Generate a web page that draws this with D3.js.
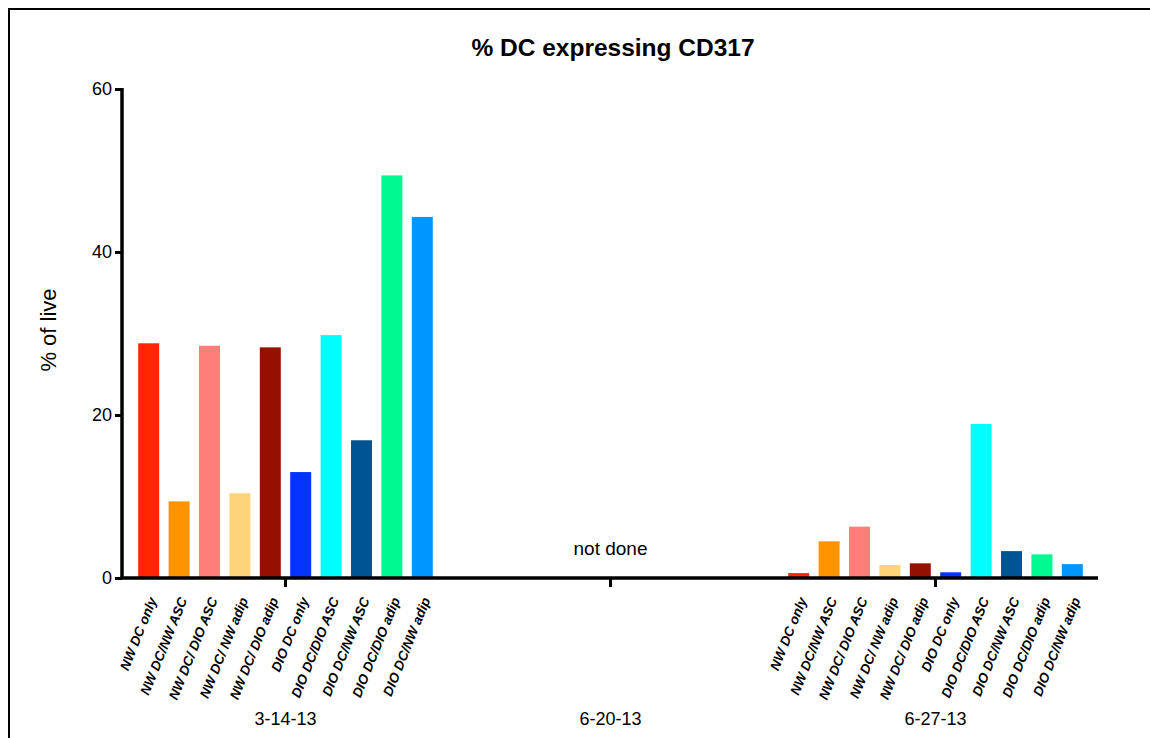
<!DOCTYPE html>
<html>
<head>
<meta charset="utf-8">
<script src="https://cdn.jsdelivr.net/npm/d3@7"></script>
<style>
  html, body { margin: 0; padding: 0; background: #fff; }
  svg { display: block; font-family: "Liberation Sans", Arial, Helvetica, sans-serif; }
</style>
</head>
<body>
<svg id="chart" width="1150" height="738"></svg>
<script>
// ---- data ----
const title = "% DC expressing CD317";
const yLabel = "% of live";
const dates = ["3-14-13", "6-20-13", "6-27-13"];
const conditions = [
  "NW DC only", "NW DC/NW ASC", "NW DC/ DIO ASC", "NW DC/ NW adip", "NW DC/ DIO adip",
  "DIO DC only", "DIO DC/DIO ASC", "DIO DC/NW ASC", "DIO DC/DIO adip", "DIO DC/NW adip"
];
const colors = ["#FF2600", "#FF9300", "#FF7E79", "#FFD479", "#941100",
                "#0433FF", "#00FDFF", "#005493", "#00FA92", "#0096FF"];
const values_3_14_13 = [28.8, 9.4, 28.5, 10.4, 28.3, 13.0, 29.8, 16.9, 49.4, 44.3];
const values_6_20_13 = null; // not done
const values_6_27_13 = [0.6, 4.5, 6.3, 1.6, 1.8, 0.7, 18.9, 3.3, 2.9, 1.7];
const seriesByDate = [values_3_14_13, values_6_20_13, values_6_27_13];
const yTicks = [0, 20, 40, 60];
const missingNote = "not done";

// ---- layout ----
const svg = d3.select("#chart");
const plotLeft = 122, plotRight = 1098, y0 = 578, yTop = 89;

svg.append("rect").attr("x", 9).attr("y", 9).attr("width", 1300).attr("height", 900)
  .attr("fill", "none").attr("stroke", "#000").attr("stroke-width", 2);

const x0 = d3.scaleBand().domain(dates).range([123, plotRight]).paddingInner(0).paddingOuter(0);
const x1 = d3.scaleBand().domain(conditions).range([0, x0.bandwidth()]).paddingInner(0.31).paddingOuter(0.5);
const y = d3.scaleLinear().domain([0, 60]).range([y0, yTop]);

// title
svg.append("text").attr("x", 613).attr("y", 56).attr("text-anchor", "middle")
  .attr("font-size", 24.5).attr("font-weight", "bold").text(title);

// y label
svg.append("text").attr("transform", "translate(56,330) rotate(-90)")
  .attr("text-anchor", "middle").attr("font-size", 22).text(yLabel);

// bars
const data = [];
dates.forEach((d, i) => {
  const vals = seriesByDate[i];
  if (!vals) return;
  vals.forEach((v, j) => data.push({date: d, cond: conditions[j], value: v, color: colors[j]}));
});

svg.append("g").selectAll("rect").data(data).join("rect")
  .attr("x", d => x0(d.date) + x1(d.cond))
  .attr("width", x1.bandwidth())
  .attr("y", d => y(d.value))
  .attr("height", d => y0 - y(d.value))
  .attr("fill", d => d.color);

// y axis
const yAxis = svg.append("g").attr("transform", `translate(${plotLeft},0)`)
  .call(d3.axisLeft(y).tickValues(yTicks).tickSize(7).tickSizeOuter(0).tickPadding(3));
yAxis.select(".domain").attr("stroke-width", 3.5).attr("d", `M0,${yTop - 1}V${y0}`);
yAxis.selectAll(".tick line").attr("stroke-width", 3);
yAxis.selectAll(".tick text").attr("font-size", 18).attr("font-family", "Liberation Sans, Arial, sans-serif").attr("fill", "#000");

// x axis
const xAxis = svg.append("g").attr("transform", `translate(0,${y0})`)
  .call(d3.axisBottom(x0).tickSize(9).tickSizeOuter(0).tickFormat(""));
xAxis.select(".domain").attr("stroke-width", 3.5).attr("d", `M${plotLeft - 1.5},0H${plotRight}`);
xAxis.selectAll(".tick line").attr("stroke-width", 3);

// date labels
svg.append("g").selectAll("text").data(dates).join("text")
  .attr("x", d => x0(d) + x0.bandwidth() / 2)
  .attr("y", 725).attr("text-anchor", "middle").attr("font-size", 18).text(d => d);

// condition labels
svg.append("g").selectAll("text").data(data).join("text")
  .attr("transform", d => `translate(${x0(d.date) + x1(d.cond) + x1.bandwidth() / 2 + 4},598) rotate(-68)`)
  .attr("text-anchor", "end").attr("dy", "0.35em")
  .attr("font-size", 13.5).attr("font-style", "italic").attr("font-weight", "bold")
  .text(d => d.cond);

// missing note
dates.forEach((d, i) => {
  if (!seriesByDate[i]) {
    svg.append("text").attr("x", x0(d) + x0.bandwidth() / 2).attr("y", 555)
      .attr("text-anchor", "middle").attr("font-size", 19).text(missingNote);
  }
});
</script>
</body>
</html>
